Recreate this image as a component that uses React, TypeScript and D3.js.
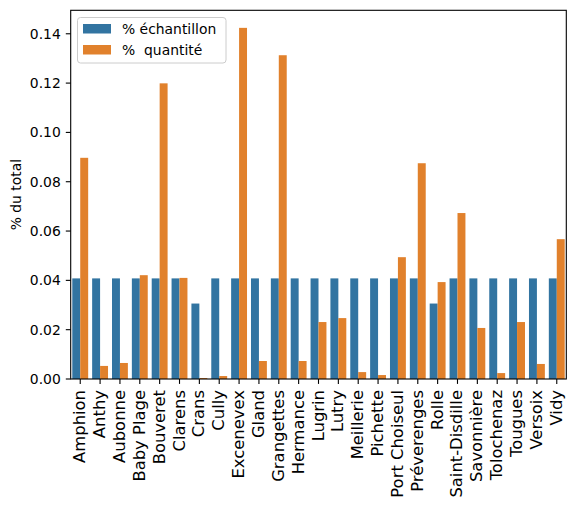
import React from "react";
import * as d3 from "d3";

const categories = [
  "Amphion", "Anthy", "Aubonne", "Baby Plage", "Bouveret", "Clarens", "Crans", "Cully",
  "Excenevex", "Gland", "Grangettes", "Hermance", "Lugrin", "Lutry", "Meillerie", "Pichette",
  "Port Choiseul", "Préverenges", "Rolle", "Saint-Disdille", "Savonnière", "Tolochenaz",
  "Tougues", "Versoix", "Vidy",
];
const echantillon = [
  0.0408, 0.0408, 0.0408, 0.0408, 0.0408, 0.0408, 0.0306, 0.0408,
  0.0408, 0.0408, 0.0408, 0.0408, 0.0408, 0.0408, 0.0408, 0.0408,
  0.0408, 0.0408, 0.0306, 0.0408, 0.0408, 0.0408,
  0.0408, 0.0408, 0.0408,
];
const quantite = [
  0.0897, 0.0053, 0.0065, 0.0421, 0.1199, 0.041, 0.0004, 0.0012,
  0.1424, 0.0073, 0.1313, 0.0073, 0.0231, 0.0247, 0.0028, 0.0016,
  0.0494, 0.0875, 0.0393, 0.0673, 0.0207, 0.0024,
  0.0231, 0.0061, 0.0567,
];
const yTicks = [0, 0.02, 0.04, 0.06, 0.08, 0.1, 0.12, 0.14];
const seriesNames = ["% échantillon", "%  quantité"];
const colors = ["#3274a1", "#e1812c"];

export default function App() {
  const W = 576, H = 529;
  const left = 70.7, right = 566.3, top = 10.3, bottom = 379;
  const n = categories.length;
  const x = d3.scaleLinear().domain([-0.48, n - 1 + 0.48]).range([left, right]);
  const ymax = (d3.max([...echantillon, ...quantite]) as number) * 1.05;
  const y = d3.scaleLinear().domain([0, ymax]).range([bottom, top]);
  const bw = x(0.4) - x(0);
  const font = "DejaVu Sans, sans-serif";

  return (
    <svg width={W} height={H} style={{ position: "absolute", left: 0, top: 0, background: "#fff" }} fontFamily={font}>
      <rect x={0} y={0} width={W} height={H} fill="#fff" />
      {categories.map((c, i) => (
        <g key={c}>
          <rect x={x(i) - bw} y={y(echantillon[i])} width={bw} height={bottom - y(echantillon[i])} fill={colors[0]} />
          <rect x={x(i)} y={y(quantite[i])} width={bw} height={bottom - y(quantite[i])} fill={colors[1]} />
        </g>
      ))}
      {/* spines */}
      <rect x={left} y={top} width={right - left} height={bottom - top} fill="none" stroke="#000" strokeWidth={1.1} />
      {/* y ticks */}
      {yTicks.map((t) => (
        <g key={t}>
          <line x1={left - 4.9} x2={left} y1={y(t)} y2={y(t)} stroke="#000" strokeWidth={1.1} />
          <text x={left - 9.9} y={y(t)} fontSize={13.9} textAnchor="end" dominantBaseline="central" fill="#000">
            {t.toFixed(2)}
          </text>
        </g>
      ))}
      {/* x ticks */}
      {categories.map((c, i) => (
        <g key={"t" + c}>
          <line x1={x(i)} x2={x(i)} y1={bottom} y2={bottom + 4.9} stroke="#000" strokeWidth={1.1} />
          <text
            transform={`translate(${x(i) - 0.5},${bottom + 11}) rotate(-90)`}
            fontSize={16.4}
            textAnchor="end"
            dominantBaseline="central"
            fill="#000"
          >
            {c}
          </text>
        </g>
      ))}
      <text transform={`translate(15.5,${(top + bottom) / 2}) rotate(-90)`} fontSize={13.9} textAnchor="middle" dominantBaseline="central" fill="#000">
        % du total
      </text>
      {/* legend */}
      <g>
        <rect x={77.5} y={17.5} width={148.5} height={45.5} rx={3} fill="#fff" fillOpacity={0.8} stroke="#cccccc" strokeWidth={1} />
        {seriesNames.map((s, k) => (
          <g key={s}>
            <rect x={83} y={24 + k * 21} width={28} height={9.5} fill={colors[k]} />
            <text x={122} y={29 + k * 21} fontSize={13.9} dominantBaseline="central" fill="#000" style={{ whiteSpace: "pre" }}>
              {s}
            </text>
          </g>
        ))}
      </g>
    </svg>
  );
}
